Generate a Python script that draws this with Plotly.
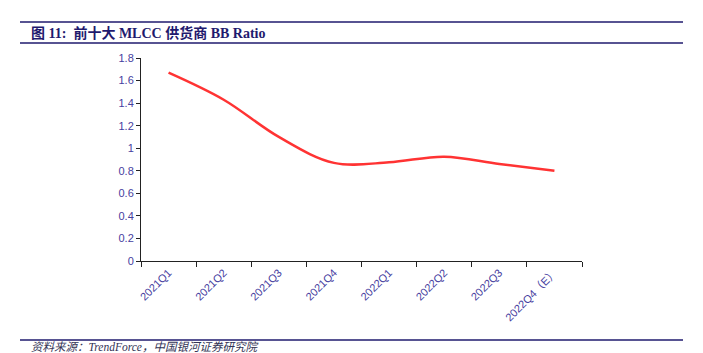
import plotly.graph_objects as go

categories = ["2021Q1", "2021Q2", "2021Q3", "2021Q4", "2022Q1", "2022Q2", "2022Q3", "2022Q4（E）"]
bb_ratio = [1.67, 1.43, 1.10, 0.87, 0.875, 0.925, 0.86, 0.80]
y_ticks = [0, 0.2, 0.4, 0.6, 0.8, 1, 1.2, 1.4, 1.6, 1.8]
y_tick_labels = ["0", "0.2", "0.4", "0.6", "0.8", "1", "1.2", "1.4", "1.6", "1.8"]

W, H = 703, 353
L, R, T, B = 141, 121, 58, 92
pw, ph = W - L - R, H - T - B

def px(x):
    return (x - L) / pw

def py(y):
    return (H - B - y) / ph

tick_color = "#4640a0"
navy = "#1f1a6e"

fig = go.Figure()
fig.add_trace(go.Scatter(
    x=categories, y=bb_ratio, mode="lines",
    line=dict(color="#ff3333", width=2.5, shape="spline", smoothing=1.0),
    hoverinfo="skip", showlegend=False,
))

fig.update_layout(
    width=W, height=H,
    margin=dict(l=L, r=R, t=T, b=B),
    plot_bgcolor="white", paper_bgcolor="white",
    font=dict(family="Liberation Sans, Noto Sans CJK SC", size=11, color=tick_color),
    xaxis=dict(
        type="category", range=[-0.5, 7.5], tickson="boundaries",
        showline=True, linecolor="#222222", linewidth=1,
        ticks="outside", ticklen=5, tickcolor="#222222",
        tickangle=-45, showgrid=False, zeroline=False,
        tickfont=dict(size=11, color=tick_color),
    ),
    yaxis=dict(
        range=[0, 1.8], tickvals=y_ticks, ticktext=y_tick_labels,
        showline=True, linecolor="#222222", linewidth=1,
        ticks="outside", ticklen=4, tickcolor="#222222",
        showgrid=False, zeroline=False,
        tickfont=dict(size=11, color=tick_color),
    ),
    shapes=[
        dict(type="line", xref="paper", yref="paper", x0=px(20), x1=px(683), y0=py(22), y1=py(22),
             line=dict(color=navy, width=1.5)),
        dict(type="line", xref="paper", yref="paper", x0=px(20), x1=px(683), y0=py(43), y1=py(43),
             line=dict(color=navy, width=1.5)),
        dict(type="line", xref="paper", yref="paper", x0=px(20), x1=px(683), y0=py(340), y1=py(340),
             line=dict(color=navy, width=1.5)),
    ],
    annotations=[
        dict(text="<b>图 11:  前十大 MLCC 供货商 BB Ratio</b>", xref="paper", yref="paper",
             x=px(29), y=py(33), xanchor="left", yanchor="middle", showarrow=False,
             font=dict(family="Times New Roman, Liberation Serif, Noto Sans CJK SC", size=14, color=navy)),
        dict(text="<i>资料来源：TrendForce，中国银河证券研究院</i>", xref="paper", yref="paper",
             x=px(29), y=py(346.5), xanchor="left", yanchor="middle", showarrow=False,
             font=dict(family="Times New Roman, Liberation Serif, Noto Sans CJK SC", size=11.5, color="#333355")),
    ],
)

fig.write_html("out.html")
